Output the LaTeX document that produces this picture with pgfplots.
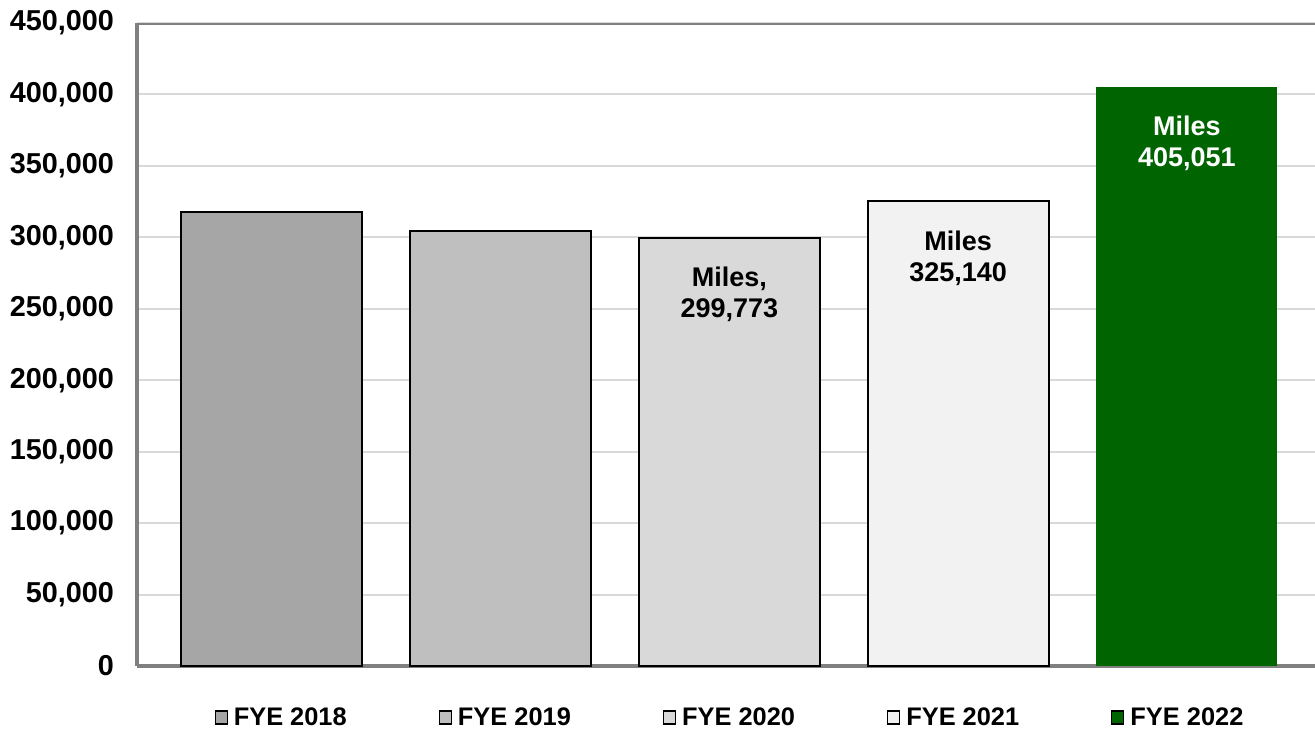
\documentclass[border=0pt]{standalone}
\usepackage{fontspec}
\setmainfont{Liberation Sans}
\usepackage{pgfplots}
\pgfplotsset{compat=1.18}

\definecolor{frameg}{HTML}{808080}
\definecolor{gridg}{HTML}{D9D9D9}
\definecolor{c18}{HTML}{A6A6A6}
\definecolor{c19}{HTML}{BFBFBF}
\definecolor{c20}{HTML}{D9D9D9}
\definecolor{c21}{HTML}{F2F2F2}
\definecolor{c22}{HTML}{006400}

\begin{document}
\begin{tikzpicture}
\useasboundingbox (0,0) rectangle (657.5pt,365pt);
\begin{axis}[
    at={(68.5pt,32pt)}, anchor=south west,
    scale only axis,
    width=589pt, height=321.5pt,
    xmin=-0.59, xmax=4.56,
    ymin=0, ymax=450000,
    ytick={0,50000,...,450000},
    scaled y ticks=false,
    /pgf/number format/assume math mode=true,
    /pgf/number format/fixed,
    /pgf/number format/precision=0,
    /pgf/number format/1000 sep={,},
    yticklabel style={font=\fontsize{14.4}{16}\bfseries, xshift=-8pt},
    xtick=\empty,
    major tick length=0pt,
    axis x line=bottom, axis y line=left,
    axis line style={-, draw=frameg, line width=2pt},
    ymajorgrids,
    grid style={gridg, line width=1pt},
    ybar, bar shift=0pt, bar width=90.5pt,
    every node near coord/.append style={anchor=north, yshift=-11pt, align=center,
        font=\fontsize{13.5}{15.5}\bfseries},
    legend columns=5,
    legend style={at={(axis description cs:0.5,0)}, yshift=-26pt, xshift=2.5pt, anchor=center,
        draw=none, font=\fontsize{12.7}{14}\bfseries,
        /tikz/every odd column/.append style={column sep=1pt},
        /tikz/every even column/.append style={column sep=44pt}},
    legend image code/.code={\filldraw[#1, line width=0.6pt] (0pt,-3pt) rectangle (6pt,3.5pt);},
]
\addplot[fill=c18, draw=black, line width=1pt] coordinates {(0,317900)};
\addlegendentry{FYE 2018}
\addplot[fill=c19, draw=black, line width=1pt] coordinates {(1,304600)};
\addlegendentry{FYE 2019}
\addplot[fill=c20, draw=black, line width=1pt,
    nodes near coords={Miles,\\\pgfmathprintnumber{\pgfplotspointmeta}}]
    coordinates {(2,299773)};
\addlegendentry{FYE 2020}
\addplot[fill=c21, draw=black, line width=1pt,
    nodes near coords={Miles\\\pgfmathprintnumber{\pgfplotspointmeta}}]
    coordinates {(3,325140)};
\addlegendentry{FYE 2021}
\addplot[fill=c22, draw=none,
    nodes near coords={Miles\\\pgfmathprintnumber{\pgfplotspointmeta}},
    every node near coord/.append style={text=white}]
    coordinates {(4,405051)};
\addlegendentry{FYE 2022}
\draw[frameg, line width=2pt] (rel axis cs:0,1) -- (rel axis cs:1,1);
\end{axis}
\end{tikzpicture}
\end{document}
